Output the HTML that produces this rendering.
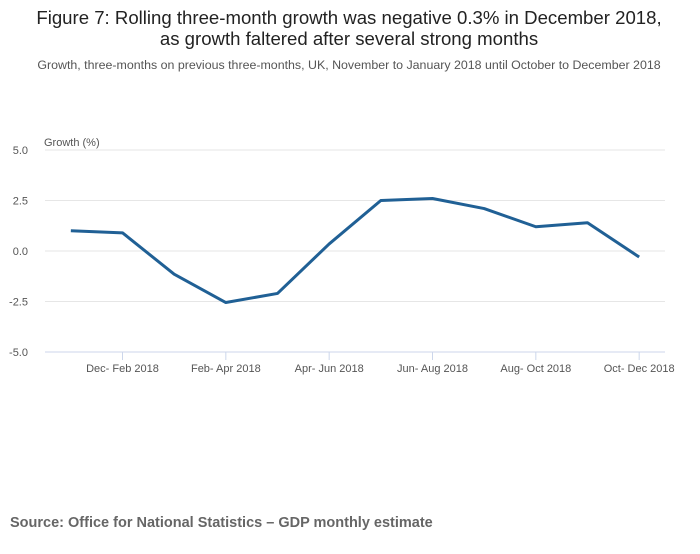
<!DOCTYPE html>
<html><head><meta charset="utf-8"><style>
body{margin:0;background:#fff;font-family:"Liberation Sans",sans-serif;}
#c{width:700px;height:549px;position:relative;}
</style></head><body>
<div id="c">
<svg id="s" width="700" height="549">
<text x="349" y="24" text-anchor="middle" font-size="18.6" fill="#222">Figure 7: Rolling three-month growth was negative 0.3% in December 2018,</text>
<text x="349" y="45" text-anchor="middle" font-size="18.6" fill="#222">as growth faltered after several strong months</text>
<text x="349" y="69" text-anchor="middle" font-size="12.4" fill="#555">Growth, three-months on previous three-months, UK, November to January 2018 until October to December 2018</text>
<text x="44" y="146" font-size="11" fill="#555">Growth (%)</text>
<text x="10" y="527" font-size="14.5" font-weight="bold" fill="#666">Source: Office for National Statistics – GDP monthly estimate</text>
<g id="grid"></g><g id="xax"></g><g id="plot"></g>
</svg></div>
<script>
const categories=["Nov- Jan 2018","Dec- Feb 2018","Jan- Mar 2018","Feb- Apr 2018","Mar- May 2018","Apr- Jun 2018","May- Jul 2018","Jun- Aug 2018","Jul- Sep 2018","Aug- Oct 2018","Sep- Nov 2018","Oct- Dec 2018"];
const growth=[1.0,0.9,-1.15,-2.55,-2.1,0.35,2.5,2.6,2.1,1.2,1.4,-0.3];
const yTicks=[5,2.5,0,-2.5,-5];
const yTickLabels=["5.0","2.5","0.0","-2.5","-5.0"];
const NS="http://www.w3.org/2000/svg";
const L=45,R=665,T=150,B=352;
const bw=(R-L)/categories.length;
const x=i=>L+bw*(i+0.5);
const y=v=>T+(5-v)/10*(B-T);
function mk(t,a,p){const e=document.createElementNS(NS,t);for(const k in a)e.setAttribute(k,a[k]);p.appendChild(e);return e;}
const grid=document.getElementById('grid'),xax=document.getElementById('xax'),plot=document.getElementById('plot');
yTicks.forEach((v,i)=>{
 const ln=mk('line',{x1:L,x2:R,y1:y(v),y2:y(v),stroke:i==4?'#ccd6eb':'#e6e6e6','stroke-width':1},grid);
 
 
 const t=mk('text',{x:28,y:y(v)+4,'text-anchor':'end','font-size':11,fill:'#555'},grid);
 t.textContent=yTickLabels[i];
 
 
});
categories.forEach((c,i)=>{
 if(i%2==1){
  const tk=mk('line',{x1:x(i),x2:x(i),y1:B,y2:B+8,stroke:'#ccd6eb'},xax);
  
  
  const t=mk('text',{x:x(i),y:B+20,'text-anchor':'middle','font-size':11,fill:'#555'},xax);
  t.textContent=c;
  
  
 }
});
const path=mk('path',{d:growth.map((v,i)=>(i?'L':'M')+x(i)+','+y(v)).join(''),fill:'none',stroke:'#206095','stroke-width':3,'stroke-linejoin':'round'},plot);


</script>
</body></html>
